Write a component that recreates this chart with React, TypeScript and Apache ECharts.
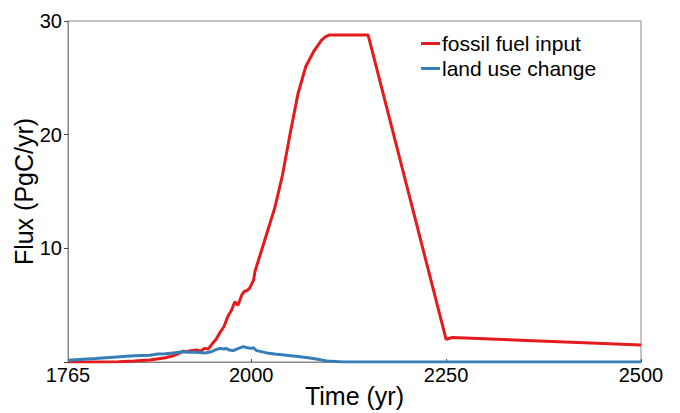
import React, { useEffect, useRef } from "react";
import * as echarts from "echarts";

const fossilYears = [1765, 1800, 1830, 1850, 1870, 1890, 1900, 1907, 1913, 1918, 1922, 1930, 1935, 1940, 1945, 1950, 1955, 1960, 1965, 1970, 1975, 1979, 1983, 1988, 1991, 1995, 1998, 2003, 2005, 2010, 2020, 2030, 2040, 2050, 2060, 2070, 2080, 2090, 2095, 2100, 2150, 2250, 2258, 2500];
const fossilValues = [0.003, 0.01, 0.03, 0.08, 0.18, 0.38, 0.55, 0.75, 0.95, 0.9, 1.0, 1.05, 0.95, 1.2, 1.15, 1.6, 2.0, 2.6, 3.1, 4.0, 4.6, 5.3, 5.0, 5.9, 6.2, 6.3, 6.5, 7.2, 8.0, 9.1, 11.3, 13.5, 16.4, 20.1, 23.6, 26.0, 27.3, 28.3, 28.6, 28.76, 28.76, 2.0, 2.15, 1.5];

const landYears = [1765, 1800, 1850, 1870, 1880, 1890, 1900, 1913, 1920, 1930, 1941, 1949, 1955, 1960, 1965, 1968, 1972, 1977, 1982, 1990, 1995, 2000, 2003, 2007, 2020, 2030, 2063, 2080, 2097, 2118, 2500];
const landValues = [0.15, 0.3, 0.55, 0.6, 0.7, 0.72, 0.8, 0.9, 0.85, 0.85, 0.8, 0.9, 1.1, 1.2, 1.15, 1.2, 1.05, 1.0, 1.15, 1.35, 1.25, 1.2, 1.25, 1.0, 0.8, 0.7, 0.47, 0.3, 0.09, 0.0, 0.0];

const xTicks = [1765, 2000, 2250, 2500];
const yTicks = [0, 10, 20, 30];

export default function App() {
  const ref = useRef<HTMLDivElement>(null);
  useEffect(() => {
    const chart = echarts.init(ref.current!, null, { renderer: "svg" });
    const font = "Liberation Sans, Arial, Helvetica, sans-serif";
    chart.setOption({
      animation: false,
      textStyle: { fontFamily: font },
      grid: {
        left: 68, right: 39, top: 21, bottom: 51,
        containLabel: false, outerBoundsMode: "none",
        show: true, borderColor: "#888", borderWidth: 1,
      },
      legend: {
        orient: "vertical",
        left: 421,
        top: 33,
        padding: 0,
        itemGap: 4,
        itemWidth: 19,
        itemHeight: 3,
        icon: "rect",
        textStyle: { fontSize: 21, color: "#000", fontFamily: font, padding: [0, 0, 0, -3] },
        data: ["fossil fuel input", "land use change"],
      },
      xAxis: {
        type: "value",
        min: 1765,
        max: 2500,
        name: "Time (yr)",
        nameLocation: "middle",
        nameGap: 21,
        nameMoveOverlap: false,
        nameTextStyle: { fontSize: 25, color: "#000", fontFamily: font },
        axisLine: { lineStyle: { color: "#888", width: 1 } },
        axisTick: { show: true, inside: true, length: 3, customValues: xTicks, lineStyle: { color: "#444" } },
        axisLabel: {
          customValues: xTicks, fontSize: 20, color: "#000", margin: 3, fontFamily: font,
          formatter: (v: number) => String(v),
        },
        splitLine: { show: false },
      },
      yAxis: {
        type: "value",
        min: 0,
        max: 30,
        interval: 10,
        name: "Flux (PgC/yr)",
        nameLocation: "middle",
        nameGap: 32,
        nameMoveOverlap: false,
        nameTextStyle: { fontSize: 25, color: "#000", fontFamily: font },
        axisLine: { show: true, lineStyle: { color: "#888", width: 1 } },
        axisTick: { show: true, length: 4, customValues: yTicks, lineStyle: { color: "#444" } },
        axisLabel: {
          fontSize: 20,
          color: "#000",
          margin: 6,
          fontFamily: font,
          formatter: (v: number) => (v === 0 ? "" : String(v)),
        },
        splitLine: { show: false },
      },
      series: [
        {
          name: "fossil fuel input",
          type: "line",
          data: fossilYears.map((y, i) => [y, fossilValues[i]]),
          showSymbol: false,
          lineStyle: { color: "#e41a1c", width: 3 },
          itemStyle: { color: "#e41a1c" },
        },
        {
          name: "land use change",
          type: "line",
          data: landYears.map((y, i) => [y, landValues[i]]),
          showSymbol: false,
          lineStyle: { color: "#377eb8", width: 3 },
          itemStyle: { color: "#377eb8" },
        },
      ],
    });
    return () => chart.dispose();
  }, []);
  return <div ref={ref} style={{ width: 680, height: 413, position: "absolute", left: 0, top: 0 }} />;
}
